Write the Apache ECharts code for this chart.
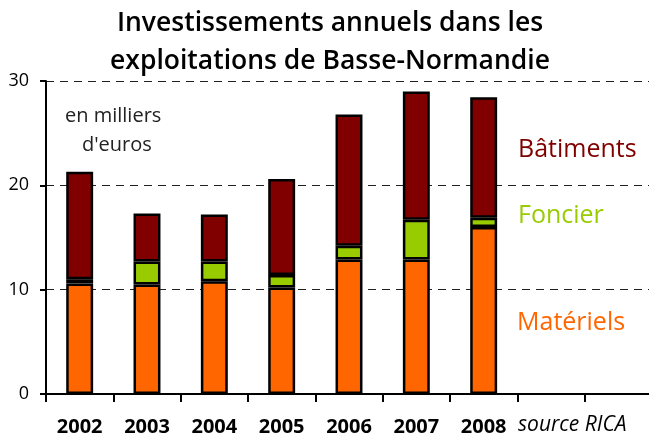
<!DOCTYPE html>
<html>
<head>
   <meta charset="utf-8">
   <title>Investissements annuels</title>
   <script type="text/javascript" src="https://cdn.jsdelivr.net/npm/echarts@6/dist/echarts.min.js"></script>
   <style type="text/css">
      html, body { margin: 0; padding: 0; background: #fff; }
      #main { width: 649px; height: 436px; }
   </style>
</head>
<body>
<div id="main"></div>
<script type="text/javascript">
  // données (milliers d'euros)
  var annees = ['2002', '2003', '2004', '2005', '2006', '2007', '2008', '', ''];
  var materiels = [10.6, 10.5, 10.8, 10.2, 12.9, 12.9, 16.0];
  var foncier = [0.4, 2.2, 1.9, 1.2, 1.3, 3.8, 0.9];
  var batiments = [10.3, 4.6, 4.5, 9.2, 12.6, 12.3, 11.55];
  var yTicks = [0, 10, 20, 30];

  var police = '"Open Sans", sans-serif';
  var chart = echarts.init(document.getElementById('main'));

  function serie(nom, data, couleur) {
    return {
      name: nom,
      type: 'bar',
      stack: 'total',
      data: data,
      barWidth: '40%',
      itemStyle: {color: couleur, borderColor: '#000', borderWidth: 2.5}
    };
  }

  function texte(x, y, txt, font, couleur, align) {
    return {
      type: 'text', x: x, y: y,
      style: {text: txt, font: font, fill: couleur, align: align || 'left', verticalAlign: 'middle'}
    };
  }

  chart.setOption({
    animation: false,
    grid: {left: 46, right: -3, top: 81, bottom: 42, outerBoundsMode: 'none', containLabel: false},
    xAxis: {
      type: 'category',
      data: annees,
      axisLine: {lineStyle: {color: '#000', width: 2}},
      axisTick: {show: true, length: 8, lineStyle: {color: '#000', width: 2}},
      axisLabel: {fontFamily: police, fontWeight: 'bold', fontSize: 20, color: '#000', margin: 23, interval: 0}
    },
    yAxis: {
      type: 'value',
      min: yTicks[0],
      max: yTicks[yTicks.length - 1],
      interval: 10,
      axisLine: {show: true, lineStyle: {color: '#000', width: 2}},
      axisTick: {show: true, length: 6, lineStyle: {color: '#000', width: 2}},
      axisLabel: {fontFamily: police, fontSize: 18, color: '#000', margin: 17},
      splitLine: {lineStyle: {color: '#222', type: [8, 6], width: 1}}
    },
    series: [
      serie('Matériels', materiels, '#FF6600'),
      serie('Foncier', foncier, '#99CC00'),
      serie('Bâtiments', batiments, '#800000')
    ],
    graphic: [
      texte(330, 23.5, 'Investissements annuels dans les', '600 26.5px ' + police, '#000', 'center'),
      texte(330, 61, 'exploitations de Basse-Normandie', '600 26.5px ' + police, '#000', 'center'),
      texte(65, 116, 'en milliers', '20px ' + police, '#222'),
      texte(82, 145, "d'euros", '20px ' + police, '#222'),
      texte(518, 150, 'Bâtiments', '25px ' + police, '#800000'),
      texte(518, 216, 'Foncier', '25px ' + police, '#99CC00'),
      texte(517, 323, 'Matériels', '25px ' + police, '#FF6600'),
      texte(518, 425, 'source RICA', 'italic 21px ' + police, '#000')
    ]
  });
</script>
</body>
</html>
